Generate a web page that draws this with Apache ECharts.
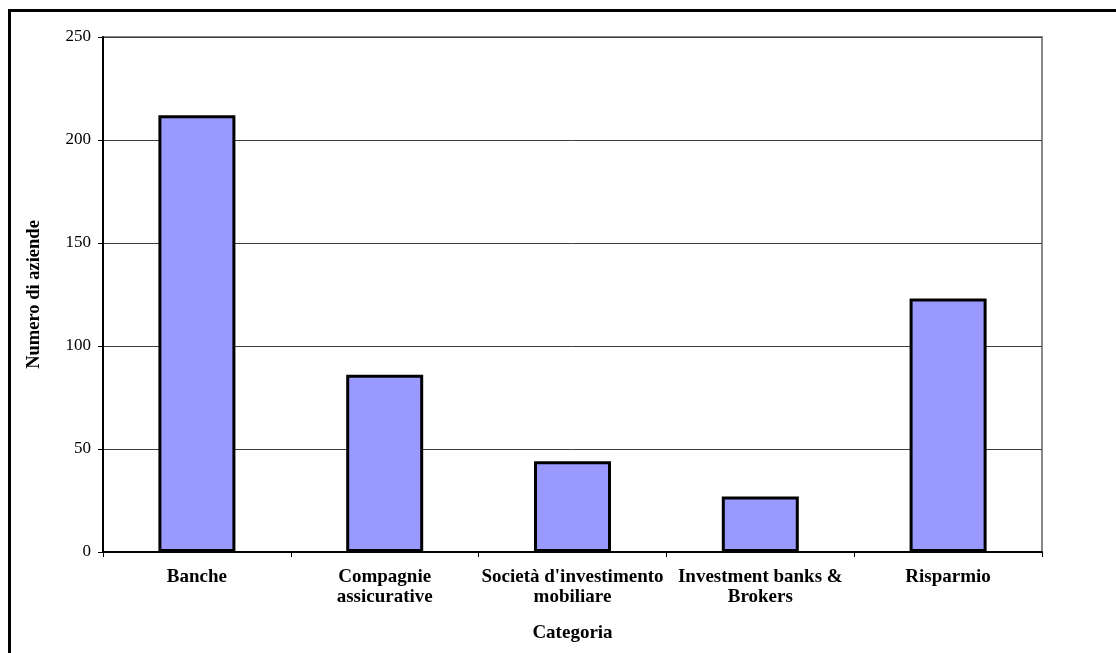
<!DOCTYPE html>
<html>
<head>
<meta charset="utf-8">
<script src="https://cdn.jsdelivr.net/npm/echarts@6/dist/echarts.min.js"></script>
<style>
  html, body { margin: 0; padding: 0; background: #fff; }
  #chart { width: 1116px; height: 653px; }
</style>
</head>
<body>
<div id="chart"></div>
<script>
// Numero di aziende per categoria
const categories = ['Banche', 'Compagnie\nassicurative', "Società d'investimento\nmobiliare", 'Investment banks &\nBrokers', 'Risparmio'];
const counts = [212, 86, 44, 27, 123];
const yTicks = { min: 0, max: 250, interval: 50 };

const serif = '"Liberation Serif", "DejaVu Serif", serif';

const chart = echarts.init(document.getElementById('chart'), null, { renderer: 'canvas' });
chart.setOption({
  backgroundColor: '#ffffff',
  animation: false,
  graphic: [{
    type: 'rect',
    silent: true,
    shape: { x: 9.5, y: 10.5, width: 1300, height: 1000 },
    style: { fill: 'none', stroke: '#000', lineWidth: 3 }
  }],
  grid: {
    left: 103, top: 37, right: 74, bottom: 101,
    show: true, borderColor: '#8a8a8a', borderWidth: 2, backgroundColor: 'transparent'
  },
  xAxis: {
    type: 'category',
    data: categories,
    boundaryGap: true,
    name: 'Categoria',
    nameLocation: 'middle',
    nameGap: 72,
    nameTextStyle: { fontFamily: serif, fontWeight: 'bold', fontSize: 19, color: '#000' },
    axisLine: { lineStyle: { color: '#000', width: 2 } },
    axisTick: { show: true, length: 5, inside: false, lineStyle: { color: '#000', width: 1 } },
    axisLabel: {
      interval: 0, margin: 15, fontFamily: serif, fontWeight: 'bold', fontSize: 19,
      color: '#000', lineHeight: 20
    }
  },
  yAxis: {
    type: 'value',
    min: yTicks.min, max: yTicks.max, interval: yTicks.interval,
    name: 'Numero di aziende',
    nameLocation: 'middle',
    nameGap: 59,
    nameTextStyle: { fontFamily: serif, fontWeight: 'bold', fontSize: 18.5, color: '#000' },
    axisLine: { show: true, lineStyle: { color: '#000', width: 2 } },
    axisTick: { show: true, length: 5, inside: false, lineStyle: { color: '#000', width: 1 } },
    axisLabel: { margin: 12, fontFamily: serif, fontSize: 17, color: '#000' },
    splitLine: { show: true, lineStyle: { color: '#3c3c3c', width: 1 } }
  },
  series: [{
    type: 'bar',
    data: counts,
    barCategoryGap: '59%',
    itemStyle: { color: '#9999ff', borderColor: '#000', borderWidth: 3 }
  }]
});
</script>
</body>
</html>
